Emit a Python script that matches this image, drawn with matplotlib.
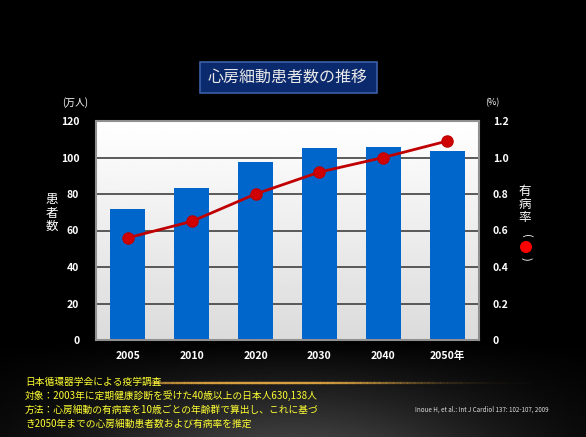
import numpy as np
import matplotlib
matplotlib.use('Agg')
import matplotlib.pyplot as plt
from matplotlib.patches import Rectangle, Ellipse

plt.rcParams['font.family'] = ['Noto Sans CJK JP', 'DejaVu Sans']

# data
years = ['2005', '2010', '2020', '2030', '2040', '2050年']
patients = [71.6, 83.4, 97.8, 105.1, 105.9, 103.8]   # 万人
prevalence = [0.56, 0.65, 0.80, 0.92, 1.00, 1.09]    # %
y_left_ticks = [0, 20, 40, 60, 80, 100, 120]
y_right_ticks = ['0', '0.2', '0.4', '0.6', '0.8', '1.0', '1.2']

W, H = 586, 437
fig = plt.figure(figsize=(W / 100, H / 100), dpi=100)
fig.patch.set_facecolor('black')

# soft glow near the bottom of the slide
bg = fig.add_axes([0, 0, 1, 1], zorder=-5)
bg.set_xlim(0, 1)
bg.set_ylim(0, 1)
bg.axis('off')
xx, yy = np.meshgrid(np.linspace(-1, 1, 300), np.linspace(0, 1, 200))
glow = np.exp(-(xx * 1.3) ** 2) * np.clip(1 - yy * 4.5, 0, 1) * 0.24
bg.imshow(glow, extent=[0, 1, 0, 1], origin='lower', cmap='gray', vmin=0, vmax=1, aspect='auto')
# golden line
xl = np.linspace(0.26, 1.0, 250)
for i in range(len(xl) - 1):
    a = np.exp(-((xl[i] - 0.45) / 0.2) ** 2)
    bg.plot(xl[i:i + 2], [0.124, 0.124], color='#d8a040', alpha=a, lw=1.6)

# main axes
ax = fig.add_axes([96 / W, 1 - 340 / H, 383 / W, 219 / H])
ax.set_xlim(-0.5, 5.5)
ax.set_ylim(0, 120)
grad = np.linspace(0.86, 1.0, 100).reshape(-1, 1)
ax.imshow(grad, extent=[-0.5, 5.5, 0, 120], origin='lower', cmap='gray', vmin=0, vmax=1, aspect='auto', zorder=0)
for t in y_left_ticks[1:-1]:
    ax.axhline(t, color='#404040', lw=1.2, zorder=1)

x = np.arange(len(years))
ax.bar(x, patients, width=0.55, color='#0066cc', zorder=2)

ax.set_yticks(y_left_ticks)
ax.set_yticklabels([str(v) for v in y_left_ticks])
ax.set_xticks(x)
ax.set_xticklabels(years)
ax.tick_params(colors='white', labelsize=7.5, length=0, pad=12)
ax.tick_params(axis='x', pad=8)
for lab in ax.get_xticklabels() + ax.get_yticklabels():
    lab.set_fontweight('bold')
for s in ax.spines.values():
    s.set_color('#909090')
    s.set_linewidth(1.5)

ax2 = ax.twinx()
ax2.set_ylim(0, 1.2)
ax2.plot(x, prevalence, color='#c00000', lw=2, marker='o', ms=8,
         markerfacecolor='#d00000', markeredgecolor='#c00000', zorder=3)
ax2.set_yticks(np.arange(0, 1.21, 0.2))
ax2.set_yticklabels(y_right_ticks)
ax2.tick_params(colors='white', labelsize=7.5, length=0, pad=10)
for lab in ax2.get_yticklabels():
    lab.set_fontweight('bold')
for s in ax2.spines.values():
    s.set_visible(False)

# title box
fig.patches.append(Rectangle((200 / W, 1 - 93 / H), 177 / W, 31 / H,
                             transform=fig.transFigure, facecolor='#0b2a6e',
                             edgecolor='#3a5fa8', lw=1.2))
fig.text(288 / W, 1 - 77 / H, '心房細動患者数の推移', color='#e8e8e8',
         fontsize=11.5, ha='center', va='center')

# axis labels
fig.text(75 / W, 1 - 103 / H, '(万人)', color='white', fontsize=7, ha='center', va='center')
fig.text(52 / W, 1 - 213 / H, '患\n者\n数', color='white', fontsize=9,
         ha='center', va='center', linespacing=1.0)
fig.text(492 / W, 1 - 103 / H, '(%)', color='white', fontsize=6.5, ha='center', va='center')
fig.text(525 / W, 1 - 205 / H, '有\n病\n率', color='white', fontsize=9,
         ha='center', va='center', linespacing=1.0)
fig.text(526 / W, 1 - 236 / H, '(', color='white', fontsize=8, rotation=-90,
         ha='center', va='center')
fig.text(526 / W, 1 - 259 / H, ')', color='white', fontsize=8, rotation=-90,
         ha='center', va='center')
fig.patches.append(Ellipse((526 / W, 1 - 247 / H), 12 / W, 12 / H, transform=fig.transFigure,
                           facecolor='#ff0000', edgecolor='none'))

# notes
notes = ['日本循環器学会による疫学調査',
         '対象：2003年に定期健康診断を受けた40歳以上の日本人630,138人',
         '方法：心房細動の有病率を10歳ごとの年齢群で算出し、これに基づ',
         'き2050年までの心房細動患者数および有病率を推定']
for i, n in enumerate(notes):
    fig.text(25 / W, 1 - (382 + i * 13.8) / H, n, color='#ffff33',
             fontsize=7, ha='left', va='center')
fig.text(415 / W, 1 - 410 / H, 'Inoue H, et al.: Int J Cardiol 137: 102-107, 2009',
         color='#dddddd', fontsize=4.5, ha='left', va='center')

fig.savefig('out.png', dpi=100, facecolor='black')
